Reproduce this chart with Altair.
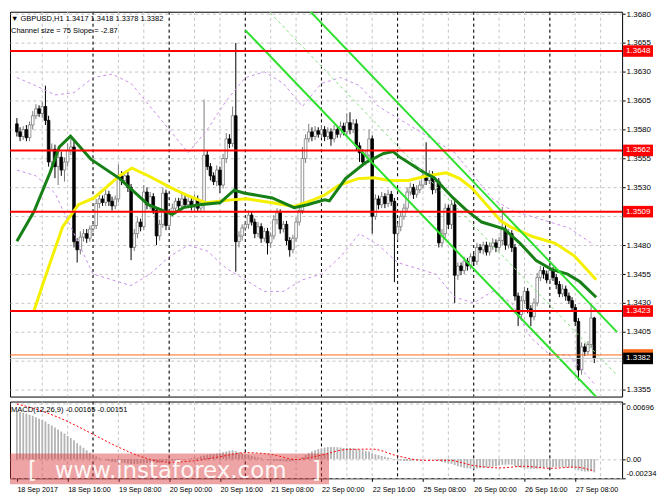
import altair as alt
import pandas as pd

# ---------------- data ----------------
first_open = 1.3585
close = [
    1.3578, 1.3574, 1.3580, 1.3573, 1.3584, 1.3592, 1.3598, 1.3594,
    1.3600, 1.3588, 1.3552, 1.3563, 1.3548, 1.3556, 1.3545, 1.3552,
    1.3562, 1.3565, 1.3483, 1.3476, 1.3487, 1.3490, 1.3486, 1.3494,
    1.3497, 1.3516, 1.3520, 1.3517, 1.3524, 1.3518, 1.3514, 1.3520,
    1.3540, 1.3536, 1.3540, 1.3530, 1.3478, 1.3490, 1.3500, 1.3496,
    1.3526, 1.3515, 1.3522, 1.3510, 1.3488, 1.3498, 1.3525, 1.3497,
    1.3508, 1.3512, 1.3518, 1.3514, 1.3520, 1.3515, 1.3518, 1.3513,
    1.3520, 1.3512, 1.3515, 1.3558, 1.3548, 1.3540, 1.3535, 1.3545,
    1.3532, 1.3555, 1.3572, 1.3568, 1.3592, 1.3483, 1.3488, 1.3495,
    1.3498, 1.3506, 1.3500, 1.3490, 1.3496, 1.3486, 1.3492, 1.3482,
    1.3488, 1.3502, 1.3508, 1.3494, 1.3498, 1.3484, 1.3476, 1.3486,
    1.3500, 1.3510, 1.3555, 1.3572, 1.3578, 1.3574, 1.3579, 1.3576,
    1.3580, 1.3574, 1.3578, 1.3572, 1.3580, 1.3576, 1.3583, 1.3578,
    1.3586, 1.3580, 1.3585, 1.3566, 1.3560, 1.3552, 1.3558, 1.3572,
    1.3505, 1.3520, 1.3515, 1.3522, 1.3516, 1.3524, 1.3518, 1.3490,
    1.3496, 1.3505, 1.3512, 1.3526, 1.3530, 1.3524, 1.3528, 1.3532,
    1.3540, 1.3536, 1.3540, 1.3528, 1.3535, 1.3482, 1.3490, 1.3512,
    1.3498, 1.3515, 1.3454, 1.3462, 1.3458, 1.3466, 1.3462, 1.3470,
    1.3466, 1.3478, 1.3476, 1.3480, 1.3474, 1.3479, 1.3482, 1.3478,
    1.3484, 1.3494, 1.3480, 1.3490, 1.3478, 1.3436, 1.3420, 1.3432,
    1.3440, 1.3425, 1.3418, 1.3430, 1.3452, 1.3458, 1.3455, 1.3450,
    1.3458, 1.3452, 1.3446, 1.3438, 1.3442, 1.3436, 1.3432, 1.3426,
    1.3414, 1.3372, 1.3392, 1.3388, 1.3394, 1.3417, 1.3382,
]
# wick lengths in pips above max(open, close) and below min(open, close)
up_wick = [
    5, 4, 3, 4, 3, 4, 4, 3,  4, 18, 4, 5, 4, 4, 5, 4,
    6, 7, 5, 3, 5, 4, 4, 3,  3, 4, 4, 3, 4, 3, 4, 3,
    10, 4, 3, 4, 3, 4, 4, 3,  6, 4, 4, 3, 3, 4, 5, 3,
    3, 4, 3, 3, 6, 3, 3, 3,  4, 3, 3, 48, 4, 3, 3, 4,
    3, 4, 5, 4, 8, 63, 4, 3,  3, 4, 3, 3, 4, 3, 3, 3,
    3, 4, 4, 3, 3, 3, 3, 3,  4, 4, 10, 4, 7, 4, 4, 3,
    4, 3, 4, 3, 4, 3, 4, 3,  8, 9, 4, 4, 3, 3, 4, 8,
    3, 4, 3, 4, 3, 4, 3, 3,  3, 4, 4, 4, 4, 3, 4, 4,
    4, 29, 5, 4, 4, 3, 4, 4,  3, 4, 3, 3, 3, 4, 3, 3,
    3, 4, 3, 3, 3, 3, 4, 3,  3, 19, 4, 4, 3, 3, 3, 4,
    4, 3, 3, 4, 4, 4, 3, 3,  4, 3, 3, 3, 4, 3, 3, 3,
    3, 3, 4, 3, 3, 12, 1,
]
dn_wick = [
    4, 4, 3, 3, 3, 4, 3, 3,  4, 4, 4, 6, 10, 16, 5, 10,
    4, 4, 5, 11, 4, 4, 4, 3,  3, 3, 4, 3, 3, 4, 4, 3,
    3, 4, 3, 4, 11, 3, 4, 4,  3, 4, 4, 3, 8, 4, 3, 4,
    3, 3, 3, 4, 3, 3, 3, 3,  4, 3, 3, 5, 3, 4, 3, 4,
    7, 3, 4, 4, 3, 26, 5, 4,  3, 4, 3, 4, 3, 4, 3, 10,
    4, 3, 4, 4, 3, 4, 6, 3,  3, 3, 3, 4, 3, 4, 3, 3,
    3, 4, 3, 6, 3, 3, 3, 3,  3, 4, 3, 4, 8, 4, 3, 3,
    15, 3, 4, 3, 4, 3, 4, 42,  6, 4, 3, 3, 3, 4, 3, 3,
    3, 4, 3, 4, 3, 4, 4, 4,  4, 4, 24, 4, 4, 3, 4, 3,
    4, 3, 3, 4, 3, 3, 3, 4,  3, 4, 4, 3, 4, 4, 10, 4,
    3, 4, 8, 3, 3, 3, 4, 3,  3, 3, 4, 3, 3, 4, 3, 3,
    4, 9, 4, 4, 3, 3, 4,
]

# moving averages (bar index, price)
ma_green_bar = [0, 5.4, 10.4, 13.4, 16.9, 23.4, 32.4, 41.4, 49, 52.5, 57.4, 64, 68.5, 71.5,
                80.5, 87.4, 91.6, 97, 98.5, 103.6, 109.6, 115.6, 118.6, 120.4, 128.5, 131.5,
                137.5, 141.4, 146.5, 153.5, 158.6, 163.7, 168.5, 173.6, 177.5, 182.6]
ma_green_price = [1.34833, 1.35091, 1.35425, 1.35651, 1.35743, 1.35542, 1.35376, 1.35151,
                  1.35067, 1.35125, 1.35150, 1.35167, 1.35276, 1.35251, 1.35209, 1.35125,
                  1.35150, 1.35192, 1.35184, 1.35376, 1.35509, 1.35593, 1.35610, 1.35568,
                  1.35426, 1.35384, 1.35209, 1.35109, 1.35000, 1.34942, 1.34817, 1.34666,
                  1.34591, 1.34549, 1.34483, 1.34349]
ma_yellow_bar = [5.4, 8.4, 14.4, 19.4, 24.3, 32.4, 36.3, 41.4, 49, 53.5, 59.5, 67.6, 72.4,
                 80.5, 87.4, 93.4, 97, 101.5, 107.5, 112.6, 117.4, 123.4, 129.4, 135.4,
                 139.6, 143.5, 152.6, 155.6, 162.5, 169.7, 175.7, 182.6]
ma_yellow_price = [1.34232, 1.34482, 1.34958, 1.35150, 1.35209, 1.35401, 1.35467, 1.35401,
                   1.35292, 1.35234, 1.35167, 1.35192, 1.35201, 1.35167, 1.35134, 1.35192,
                   1.35234, 1.35317, 1.35376, 1.35384, 1.35359, 1.35359, 1.35401, 1.35426,
                   1.35376, 1.35292, 1.35008, 1.34958, 1.34875, 1.34816, 1.34708, 1.34500]

# envelope bands (purple dashed)
band_bar = [0, 6, 12, 18, 24, 30, 36, 42, 48, 54, 60, 66, 72, 78, 84, 90, 96, 102, 108,
            114, 120, 126, 132, 138, 144, 150, 156, 162, 168, 174, 182]
band_upper = [1.3625, 1.3618, 1.3610, 1.3612, 1.3625, 1.3628, 1.3620, 1.3600, 1.3580,
              1.3560, 1.3580, 1.3605, 1.3625, 1.3630, 1.3620, 1.3600, 1.3620, 1.3625,
              1.3618, 1.3600, 1.3590, 1.3580, 1.3570, 1.3560, 1.3540, 1.3520, 1.3510,
              1.3505, 1.3500, 1.3495, 1.3480]
band_lower = [1.3545, 1.3540, 1.3525, 1.3490, 1.3455, 1.3450, 1.3445, 1.3455, 1.3470,
              1.3480, 1.3475, 1.3460, 1.3450, 1.3440, 1.3440, 1.3450, 1.3455, 1.3470,
              1.3490, 1.3480, 1.3465, 1.3460, 1.3455, 1.3435, 1.3430, 1.3440, 1.3430,
              1.3400, 1.3385, 1.3385, 1.3360]

# regression channel: start / end of the lower line, channel size
channel_bars = [72, 189.2]
channel_lower = [1.3666, 1.33298]
channel_size = 0.0075

# horizontal levels
red_levels = [1.3648, 1.3562, 1.3509, 1.3423]
orange_level = 1.3385
last_price = 1.3382

# MACD main (x 1e-5) per bar, signal sampled
macd_main = [
    600, 590, 580, 570, 555, 540, 525, 505,  490, 470, 440, 420, 395, 370, 345, 320,
    290, 265, 235, 200, 170, 140, 110, 80,  55, 35, 15, 0, -15, -25, -35, -40,
    -40, -45, -45, -55, -60, -60, -60, -55,  -50, -50, -45, -45, -50, -45, -35, -30,
    -25, -20, -15, -10, -5, 0, 5, 10,  15, 20, 35, 45, 55, 60, 65, 70,
    75, 85, 95, 105, 110, 100, 85, 75,  60, 50, 40, 30, 20, 10, 0, -10,
    -15, -20, -20, -25, -25, -30, -30, -25,  -15, 0, 25, 50, 75, 95, 110, 125,
    135, 145, 150, 150, 150, 148, 145, 140,  140, 138, 135, 128, 118, 110, 100, 95,
    75, 60, 50, 40, 30, 20, 10, -5,  -15, -20, -25, -25, -25, -20, -15, -10,
    -5, 0, 0, 0, -5, -20, -35, -45,  -55, -60, -75, -90, -100, -110, -115, -118,
    -120, -118, -115, -110, -105, -100, -95, -88,  -80, -72, -70, -68, -70, -85, -100, -110,
    -115, -120, -125, -125, -120, -115, -110, -105,  -100, -98, -97, -98, -100, -102, -105, -110,
    -118, -140, -150, -155, -155, -150, -165,
]
signal_bar = [0, 8, 16, 24, 32, 40, 48, 56, 64, 72, 80, 88, 96, 104, 112, 120, 128, 136,
              144, 152, 160, 168, 176, 182]
signal_val = [690, 600, 470, 310, 150, 20, -40, -20, 30, 80, 60, -5, 50, 120, 125, 40,
              -15, -15, -80, -110, -90, -115, -100, -151]

# axes
price_ticks = [1.3355, 1.3380, 1.3405, 1.3430, 1.3455, 1.3480, 1.3505, 1.3530,
               1.3555, 1.3580, 1.3605, 1.3630, 1.3655, 1.3680]
hidden_price_labels = [1.3380, 1.3505]   # covered by the price boxes
time_label_bars = [0, 16, 32, 48, 64, 80, 96, 112, 128, 144, 160, 176]
time_labels = ["18 Sep 2017", "18 Sep 16:00", "19 Sep 08:00", "20 Sep 00:00",
               "20 Sep 16:00", "21 Sep 08:00", "22 Sep 00:00", "22 Sep 16:00",
               "25 Sep 08:00", "26 Sep 00:00", "26 Sep 16:00", "27 Sep 08:00"]
grid_bars = [8, 16, 24, 32, 40, 48, 56, 64, 72, 80, 88, 96, 104, 112, 120, 128, 136,
             144, 152, 160, 168, 176, 184]
day_bars = [24, 48, 72, 96, 120, 144, 168]
macd_ticks = [0.00696, 0.0, -0.00234]
macd_tick_labels = ["0.00696", "0.00", "-0.00234"]

header1 = "\u25bc GBPUSD,H1  1.3417 1.3418 1.3378 1.3382"
header2 = "Channel size = 75 Slope = -2.87"
macd_header = "MACD(12,26,9) -0.00165 -0.00151"
watermark = "www.instaforex.com"

# ---------------- build tables ----------------
n = len(close)
opens = [first_open] + close[:-1]
rows = []
for i in range(n):
    o, c = opens[i], close[i]
    rows.append({
        "i": i, "open": o, "close": c,
        "high": max(o, c) + up_wick[i] / 10000.0,
        "low": min(o, c) - dn_wick[i] / 10000.0,
        "dir": "up" if c >= o else "down",
    })
candles = pd.DataFrame(rows)

# layout (whole chart kept within 649 x 483 so the page never overflows)
W, H1, H2 = 614, 386, 77
BOX_X0, BOX_X1, BOX_TX = 615, 645, 618
FONT = "Liberation Sans"
xs = alt.Scale(domain=[-0.6, 189.2], nice=False, zero=False)
ys = alt.Scale(domain=[1.3349, 1.3682], nice=False, zero=False)
ms = alt.Scale(domain=[-0.0024, 0.0072], nice=False, zero=False)

hide_test = " || ".join("abs(datum.value - %.4f) < 0.00001" % v for v in hidden_price_labels)
y_axis = alt.Axis(orient="right", values=price_ticks,
                  labelExpr="(%s) ? '' : format(datum.value, '.4f')" % hide_test,
                  tickSize=3, labelPadding=1, grid=True, gridColor="#c4c4c4", gridDash=[3, 3],
                  domain=False, labelAlign="left", labelBaseline="middle", title=None,
                  zindex=0, labelFont=FONT, labelFontSize=8, labelColor="black",
                  tickColor="black")
lab_expr = "[" + ",".join("'%s'" % s for s in time_labels) + "][round(datum.value/16)]"
m_lab_expr = ("datum.value > 0.001 ? '%s' : (datum.value < -0.001 ? '%s' : '%s')"
              % (macd_tick_labels[0], macd_tick_labels[2], macd_tick_labels[1]))
x_axis = alt.Axis(orient="bottom", values=time_label_bars, labelExpr=lab_expr, tickSize=3,
                  labelAlign="left", labelBaseline="top", labelPadding=4, domain=False,
                  grid=False, labelOverlap=False, labelFlush=False, labelBound=False,
                  title=None, labelFont=FONT, labelFontSize=7.2, labelColor="black",
                  tickColor="black", zindex=0)
m_axis = alt.Axis(orient="right", values=macd_ticks, labelExpr=m_lab_expr, tickSize=3,
                  labelPadding=1, grid=True, gridColor="#c4c4c4", gridDash=[3, 3],
                  domain=False, labelAlign="left",
                  labelBaseline={"condition": [{"test": "datum.value > 0.001", "value": "top"},
                                               {"test": "datum.value < -0.001", "value": "bottom"}],
                                 "value": "middle"},
                  title=None, zindex=0, labelFont=FONT, labelFontSize=7.6,
                  labelColor="black", tickColor="black")


def X(f):  # main panel x
    return alt.X(f, type="quantitative", scale=xs, axis=None, title=None)


def XM(f):  # macd panel x (carries the time axis)
    return alt.X(f, type="quantitative", scale=xs, axis=x_axis, title=None)


def Y(f):
    return alt.Y(f, type="quantitative", scale=ys, axis=y_axis, title=None)


def M(f):
    return alt.Y(f, type="quantitative", scale=ms, axis=m_axis, title=None)


def label(text, px, py, size=7.5, color="black", font=FONT, opacity=1.0, baseline="middle"):
    return alt.Chart(pd.DataFrame({"t": [text]})).mark_text(
        align="left", baseline=baseline, font=font, fontSize=size, color=color,
        opacity=opacity).encode(x=alt.value(px), y=alt.value(py), text="t:N")


grid_df = pd.DataFrame({"i": grid_bars})
day_df = pd.DataFrame({"i": day_bars})

# ---------------- main panel ----------------
vgrid = alt.Chart(grid_df).mark_rule(color="#c4c4c4", strokeDash=[3, 3], strokeWidth=1).encode(x=X("i"))
vday = alt.Chart(day_df).mark_rule(color="#000000", strokeDash=[3, 3], strokeWidth=1).encode(x=X("i"))
axis_layer = alt.Chart(pd.DataFrame({"p": price_ticks})).mark_point(opacity=0).encode(y=Y("p"))

up_c = candles[candles["dir"] == "up"]
dn_c = candles[candles["dir"] == "down"]
wick_up = alt.Chart(up_c).mark_rule(strokeWidth=1, color="#7a7a7a").encode(
    x=X("i"), y=Y("low"), y2="high")
wick_dn = alt.Chart(dn_c).mark_rule(strokeWidth=1, color="#000000").encode(
    x=X("i"), y=Y("low"), y2="high")
body_up = alt.Chart(up_c).mark_bar(size=2.6, strokeWidth=0.8, fill="#ffffff",
                                  stroke="#7a7a7a").encode(x=X("i"), y=Y("open"), y2="close")
body_dn = alt.Chart(dn_c).mark_bar(size=2.6, strokeWidth=0.8, fill="#000000",
                                  stroke="#000000").encode(x=X("i"), y=Y("open"), y2="close")

band_df = pd.concat([
    pd.DataFrame({"i": band_bar, "p": band_upper, "b": "upper"}),
    pd.DataFrame({"i": band_bar, "p": band_lower, "b": "lower"}),
])
bands = alt.Chart(band_df).mark_line(clip=True, color="#c990e8", strokeDash=[3, 3],
                                     strokeWidth=1).encode(x=X("i"), y=Y("p"), detail="b:N")

yellow = alt.Chart(pd.DataFrame({"i": ma_yellow_bar, "p": ma_yellow_price})).mark_line(
    clip=True, color="#f4f000", strokeWidth=3).encode(x=X("i"), y=Y("p"))
green = alt.Chart(pd.DataFrame({"i": ma_green_bar, "p": ma_green_price})).mark_line(
    clip=True, color="#168016", strokeWidth=3).encode(x=X("i"), y=Y("p"))

ch_rows = []
for b, p in zip(channel_bars, channel_lower):
    ch_rows.append({"i": b, "p": p, "l": "lower"})
    ch_rows.append({"i": b, "p": p + channel_size, "l": "upper"})
ch_df = pd.DataFrame(ch_rows)
ch_mid = pd.DataFrame({"i": channel_bars, "p": [p + channel_size / 2 for p in channel_lower]})
channel = alt.Chart(ch_df).mark_line(clip=True, color="#2ee02e", strokeWidth=2).encode(
    x=X("i"), y=Y("p"), detail="l:N")
channel_mid = alt.Chart(ch_mid).mark_line(clip=True, color="#7ee07e", strokeWidth=1,
                                         strokeDash=[3, 3]).encode(x=X("i"), y=Y("p"))

red_rules = alt.Chart(pd.DataFrame({"p": red_levels})).mark_rule(
    color="#ff0000", strokeWidth=2).encode(y=Y("p"))
orange_rule = alt.Chart(pd.DataFrame({"p": [orange_level]})).mark_rule(
    color="#ff6a1a", strokeWidth=1).encode(y=Y("p"))
bid_rule = alt.Chart(pd.DataFrame({"p": [last_price]})).mark_rule(
    color="#c8c8c8", strokeWidth=1).encode(y=Y("p"))


def price_box(levels, fill, with_text=True):
    df = pd.DataFrame({"p": levels, "lo": [p - 0.0005 for p in levels],
                       "hi": [p + 0.0005 for p in levels],
                       "t": ["%.4f" % p for p in levels]})
    out = [alt.Chart(df).mark_rect(fill=fill).encode(
        x=alt.value(BOX_X0), x2=alt.value(BOX_X1), y=Y("lo"), y2="hi")]
    if with_text:
        out.append(alt.Chart(df).mark_text(align="left", baseline="middle", font=FONT,
                                           fontSize=8, color="white").encode(
            x=alt.value(BOX_TX), y=Y("p"), text="t:N"))
    return out


main = alt.layer(axis_layer, vgrid, vday, wick_up, wick_dn, body_up, body_dn, bands, yellow,
                 green, channel, channel_mid, red_rules, orange_rule, bid_rule,
                 *price_box(red_levels, "#ff0000"),
                 *price_box([orange_level], "#ff6a1a", with_text=False),
                 *price_box([last_price], "#000000"),
                 label(header1, 1, 7.5), label(header2, 1, 19.5)
                 ).properties(width=W, height=H1)

# ---------------- MACD panel ----------------
macd_df = pd.DataFrame({"i": list(range(n)), "v": [m / 100000.0 for m in macd_main], "z": 0.0})
sig_df = pd.DataFrame({"i": signal_bar, "v": [s / 100000.0 for s in signal_val]})

m_vgrid = alt.Chart(grid_df).mark_rule(color="#c4c4c4", strokeDash=[3, 3], strokeWidth=1).encode(x=XM("i"))
m_vday = alt.Chart(day_df).mark_rule(color="#000000", strokeDash=[3, 3], strokeWidth=1).encode(x=XM("i"))
m_axis_layer = alt.Chart(pd.DataFrame({"i": time_label_bars[:3], "v": macd_ticks})).mark_point(
    opacity=0).encode(x=XM("i"), y=M("v"))
hist = alt.Chart(macd_df).mark_bar(size=1.8, color="#b4b4b4").encode(
    x=XM("i"), y=M("v"), y2="z")
signal = alt.Chart(sig_df).mark_line(color="#ff0000", strokeDash=[2, 2], strokeWidth=1,
                                     interpolate="monotone").encode(x=XM("i"), y=M("v"))

wm_box = alt.Chart(pd.DataFrame({"a": [0]})).mark_rect(color="#d93636", opacity=0.45).encode(
    x=alt.value(0), x2=alt.value(320), y=alt.value(52), y2=alt.value(83))

macd = alt.layer(m_axis_layer, m_vgrid, m_vday, hist, signal,
                 label(macd_header, 1, 8, size=7.6), wm_box,
                 label("[", 18, 76.5, size=23, color="white", font="DejaVu Sans", opacity=0.9,
                       baseline="alphabetic"),
                 label(watermark, 45, 76.5, size=23, color="white", font="DejaVu Sans",
                       opacity=0.9, baseline="alphabetic"),
                 label("]", 303, 76.5, size=23, color="white", font="DejaVu Sans", opacity=0.9,
                       baseline="alphabetic"),
                 ).properties(width=W, height=H2)

chart = alt.vconcat(main, macd, spacing=2, padding=0, background="white").configure_view(
    stroke="#000000", strokeWidth=1)

chart.save("out.html", embed_options={"renderer": "svg", "actions": False})
